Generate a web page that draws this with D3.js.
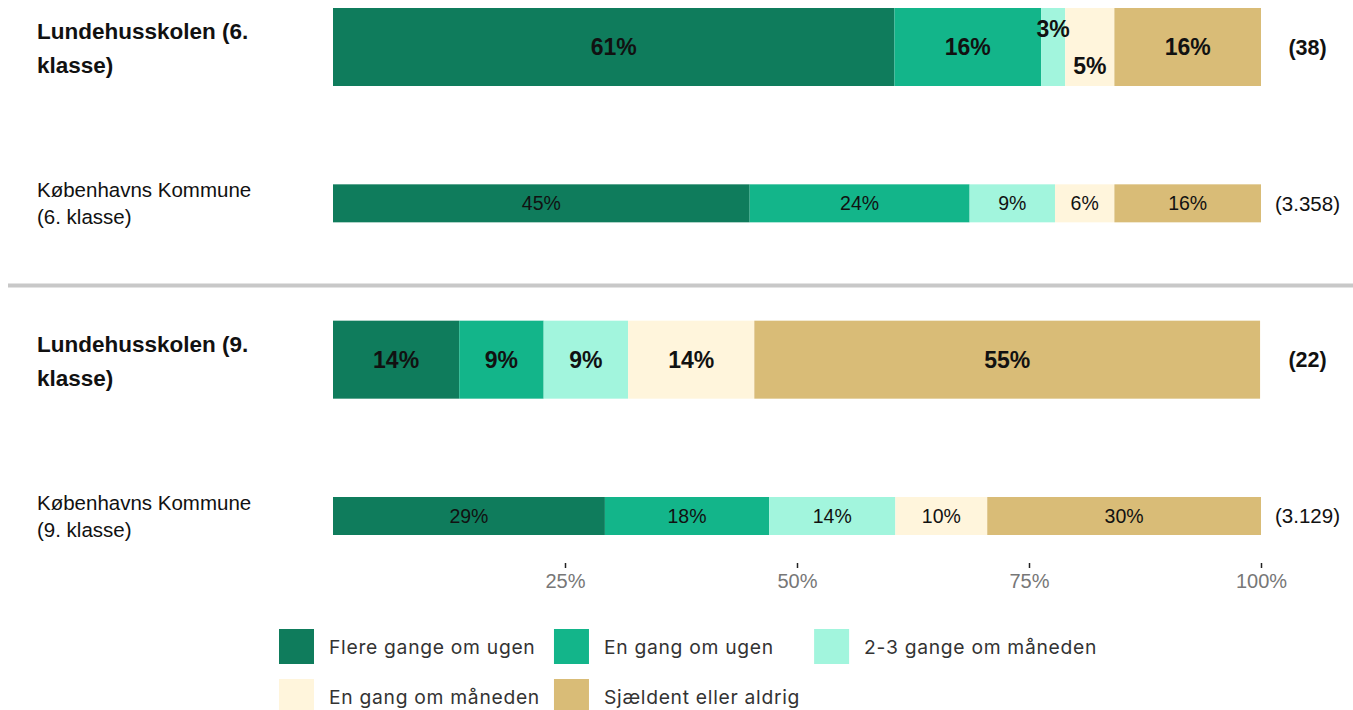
<!DOCTYPE html>
<html>
<head>
<meta charset="utf-8">
<script src="https://cdn.jsdelivr.net/npm/d3@7"></script>
<style>
  html, body { margin: 0; padding: 0; background: #fff; }
  svg { display: block; }
</style>
</head>
<body>
<svg id="chart" width="1353" height="710"></svg>
<script>
// ---------- data ----------
const categories = [
  "Lundehusskolen (6. klasse)",
  "Københavns Kommune (6. klasse)",
  "Lundehusskolen (9. klasse)",
  "Københavns Kommune (9. klasse)"
];
const labelLines = [
  ["Lundehusskolen (6.", "klasse)"],
  ["Københavns Kommune", "(6. klasse)"],
  ["Lundehusskolen (9.", "klasse)"],
  ["Københavns Kommune", "(9. klasse)"]
];
const isSchool = [true, false, true, false];
const counts = [38, 3358, 22, 3129];

const seriesNames = [
  "Flere gange om ugen",
  "En gang om ugen",
  "2-3 gange om måneden",
  "En gang om måneden",
  "Sjældent eller aldrig"
];
const flereGangeOmUgen   = [60.5, 44.9, 13.6, 29.3];
const enGangOmUgen       = [15.8, 23.7,  9.1, 17.7];
const toTreGangeOmMaaned = [ 2.6,  9.2,  9.1, 13.6];
const enGangOmMaaned     = [ 5.3,  6.4, 13.6,  9.9];
const sjaeldentEllerAldrig = [15.8, 15.8, 54.5, 29.5];
const seriesValues = [flereGangeOmUgen, enGangOmUgen, toTreGangeOmMaaned, enGangOmMaaned, sjaeldentEllerAldrig];
const seriesColors = ["#0f7c5c", "#13b58a", "#a2f5dd", "#fff5dc", "#d9bc77"];

const tickValues = [25, 50, 75, 100];

// ---------- setup ----------
const svg = d3.select("#chart");
const FONT = "'Liberation Sans', Arial, sans-serif";
const LEGEND_FONT = "Inter, Lato, sans-serif";

const x = d3.scaleLinear().domain([0, 100]).range([333, 1261]);
const y = d3.scalePoint().domain(categories).range([47, 516]);
const color = d3.scaleOrdinal().domain(seriesNames).range(seriesColors);
const dk = d3.formatLocale({decimal: ",", thousands: ".", grouping: [3], currency: ["", " kr"]});
const fmtCount = dk.format(",");

// table rows
const rows = categories.map((c, i) => {
  let cum = 0;
  const segs = seriesNames.map((s, j) => {
    const v = seriesValues[j][i];
    const seg = {series: s, value: v, x0: cum, x1: cum + v};
    cum += v;
    return seg;
  });
  return {cat: c, lines: labelLines[i], school: isSchool[i], n: counts[i], segs};
});

// separator between 6. and 9. klasse
const sepY = (y(categories[1]) + y(categories[2])) / 2 + 4;
svg.append("line")
  .attr("x1", 8).attr("x2", 1353)
  .attr("y1", sepY).attr("y2", sepY)
  .attr("stroke", "#c8c8c8").attr("stroke-width", 4);

// rows
const rowG = svg.selectAll("g.row").data(rows).join("g").attr("class", "row");

rowG.each(function(d) {
  const g = d3.select(this);
  const cy = y(d.cat);
  const h = d.school ? 78 : 38;
  const fs = d.school ? 22.5 : 20.5;
  const lineH = d.school ? 34 : 27;
  const capH = 0.716 * fs;

  // row label
  const t = g.append("text")
    .attr("font-family", FONT)
    .attr("font-size", fs)
    .attr("font-weight", d.school ? "bold" : "normal")
    .attr("fill", "#111");
  d.lines.forEach((ln, k) => {
    t.append("tspan")
      .attr("x", 37)
      .attr("y", cy + (k - (d.lines.length - 1) / 2) * lineH + capH / 2 + (d.school ? 1 : 0))
      .text(ln);
  });

  // bars
  g.selectAll("rect").data(d.segs).join("rect")
    .attr("x", s => x(s.x0))
    .attr("width", s => x(s.x1) - x(s.x0))
    .attr("y", cy - h / 2)
    .attr("height", h)
    .attr("fill", s => color(s.series));

  // value labels
  const lfs = d.school ? 23 : 19.5;
  let flip = -1;
  g.selectAll("text.val").data(d.segs).join("text")
    .attr("class", "val")
    .attr("font-family", FONT)
    .attr("font-size", lfs)
    .attr("font-weight", d.school ? "bold" : "normal")
    .attr("fill", "#111")
    .attr("text-anchor", "middle")
    .attr("x", s => (x(s.x0) + x(s.x1)) / 2)
    .attr("y", s => {
      let off = 0;
      if (d.school && s.value < 6) { off = flip * 18.5; flip = -flip; }
      return cy + off + 0.716 * lfs / 2;
    })
    .text(s => Math.round(s.value) + "%");

  // count
  const cfs = d.school ? 21.5 : 20.5;
  g.append("text")
    .attr("font-family", FONT)
    .attr("font-size", cfs)
    .attr("font-weight", d.school ? "bold" : "normal")
    .attr("fill", "#111")
    .attr("text-anchor", "middle")
    .attr("x", 1307.5)
    .attr("y", cy + 0.716 * cfs / 2)
    .text("(" + fmtCount(d.n) + ")");
});

// axis
const axis = d3.axisBottom(x)
  .tickValues(tickValues)
  .tickSize(5)
  .tickPadding(6)
  .tickFormat(v => v + "%");
const ax = svg.append("g").attr("transform", "translate(0,563)").call(axis);
ax.select(".domain").remove();
ax.selectAll(".tick line").attr("stroke", "#222").attr("stroke-width", 1.5);
ax.selectAll(".tick text")
  .attr("font-family", FONT)
  .attr("font-size", 20)
  .attr("fill", "#777");

// legend (grid: 3 columns, column width from widest text)
const legend = svg.append("g").attr("transform", "translate(279,629)");
const nCols = 3, sq = 35, textGap = 15, colGap = 14, rowStep = 50;
const items = legend.selectAll("g.item").data(seriesNames).join("g").attr("class", "item");
items.append("rect")
  .attr("width", sq).attr("height", sq)
  .attr("fill", d => color(d));
items.append("text")
  .attr("x", sq + textGap)
  .attr("y", sq / 2 + 7.5)
  .attr("font-family", LEGEND_FONT)
  .attr("font-size", 19.3)
  .attr("letter-spacing", 0.7)
  .attr("fill", "#333")
  .text(d => d);
const widths = [];
items.each(function(d, i) {
  const w = sq + textGap + d3.select(this).select("text").node().getComputedTextLength();
  const c = i % nCols;
  widths[c] = Math.max(widths[c] || 0, w);
});
const colX = [0];
for (let c = 1; c < nCols; c++) colX[c] = colX[c - 1] + widths[c - 1] + colGap;
items.attr("transform", (d, i) => `translate(${colX[i % nCols]},${Math.floor(i / nCols) * rowStep})`);
</script>
</body>
</html>
